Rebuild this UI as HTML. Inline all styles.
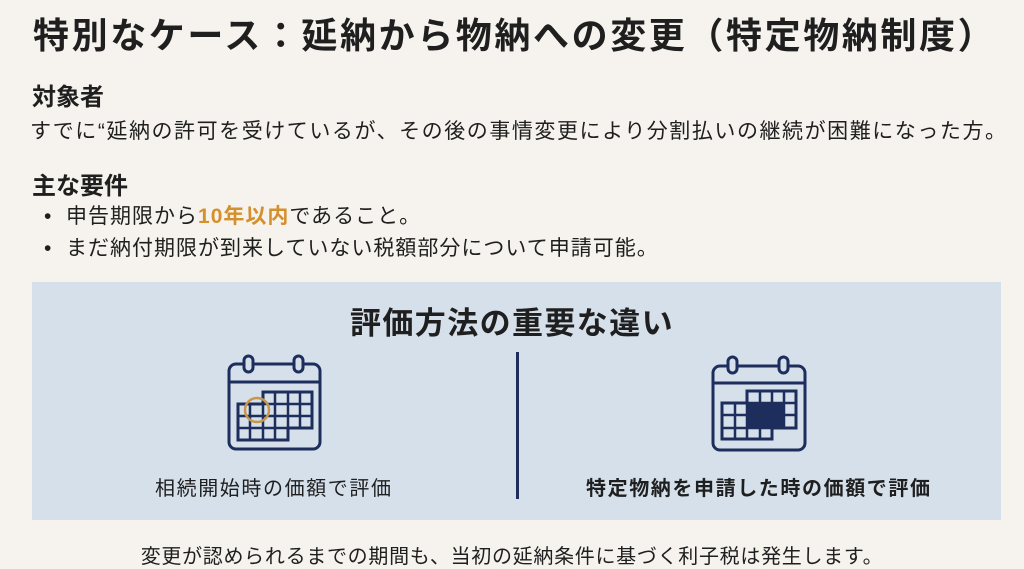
<!DOCTYPE html>
<html><head><meta charset="utf-8"><style>
body{margin:0;width:1024px;height:569px;background:#f6f3ee;font-family:"Liberation Sans","Noto Sans CJK JP",sans-serif;color:#1f1f1f;position:relative;overflow:hidden}
.a{position:absolute;white-space:nowrap}
</style></head><body>
<div class="a" style="left:33px;top:7px;font-size:36px;font-weight:bold;letter-spacing:2.6px">特別なケース：延納から物納への変更（特定物納制度）</div>
<div class="a" style="left:32px;top:77px;font-size:24px;font-weight:bold">対象者</div>
<div class="a" style="left:30px;top:115px;font-size:21px;letter-spacing:1.55px">すでに“延納の許可を受けているが、その後の事情変更により分割払いの継続が困難になった方。</div>
<div class="a" style="left:32px;top:166px;font-size:24px;font-weight:bold">主な要件</div>
<div class="a" style="left:44px;top:200px;font-size:21px;letter-spacing:1px">•&nbsp; 申告期限から<span style="color:#d4902a;font-weight:bold">10年以内</span>であること。</div>
<div class="a" style="left:44px;top:232px;font-size:21px;letter-spacing:1px">•&nbsp; まだ納付期限が到来していない税額部分について申請可能。</div>
<div class="a" style="left:32px;top:282px;width:969px;height:238px;background:#d5e0eb"></div>
<div class="a" style="left:0;width:1024px;text-align:center;top:298px;font-size:31px;font-weight:bold;letter-spacing:1.4px">評価方法の重要な違い</div>
<div class="a" style="left:516px;top:352px;width:3px;height:147px;background:#1d2d5c"></div>
<svg class="a" style="left:0;top:0" width="1024" height="569">
<g fill="none" stroke="#1d2d5c" stroke-width="3">
<rect x="229" y="364" width="91" height="85" rx="7"/>
<line x1="229" y1="382" x2="320" y2="382"/>
<rect x="244" y="356" width="9" height="16" rx="4.5" fill="#d5e0eb"/>
<rect x="294" y="356" width="9" height="16" rx="4.5" fill="#d5e0eb"/>
<path d="M263 392H312V428H288V440H238V404H263Z"/>
<path d="M238 416H312M238 428H288M263 404H312M275 392V440M288 392V440M300 392V428M250 404V440M263 392V440" stroke-width="2.5"/>
<rect x="713" y="366" width="92" height="84" rx="7"/>
<line x1="713" y1="383" x2="805" y2="383"/>
<rect x="728" y="357" width="9" height="16" rx="4.5" fill="#d5e0eb"/>
<rect x="779" y="357" width="9" height="16" rx="4.5" fill="#d5e0eb"/>
<path d="M747 391H796V428H772V439H722V403H747Z"/>
<path d="M722 415H796M722 428H772M747 403H796M760 391V439M772 391V428M784 391V428M735 403V439M747 391V439" stroke-width="2.5"/>
</g>
<rect x="747" y="403" width="38" height="25" fill="#1d2d5c"/>
<circle cx="257" cy="410" r="12" fill="none" stroke="#c8964a" stroke-width="2.5"/>
</svg>
<div class="a" style="left:155px;top:472px;font-size:20px;letter-spacing:1.6px">相続開始時の価額で評価</div>
<div class="a" style="left:586px;top:472px;font-size:20px;font-weight:bold;letter-spacing:1.6px">特定物納を申請した時の価額で評価</div>
<div class="a" style="left:0;width:1024px;text-align:center;top:540px;font-size:20px;letter-spacing:0.7px">変更が認められるまでの期間も、当初の延納条件に基づく利子税は発生します。</div>
</body></html>
